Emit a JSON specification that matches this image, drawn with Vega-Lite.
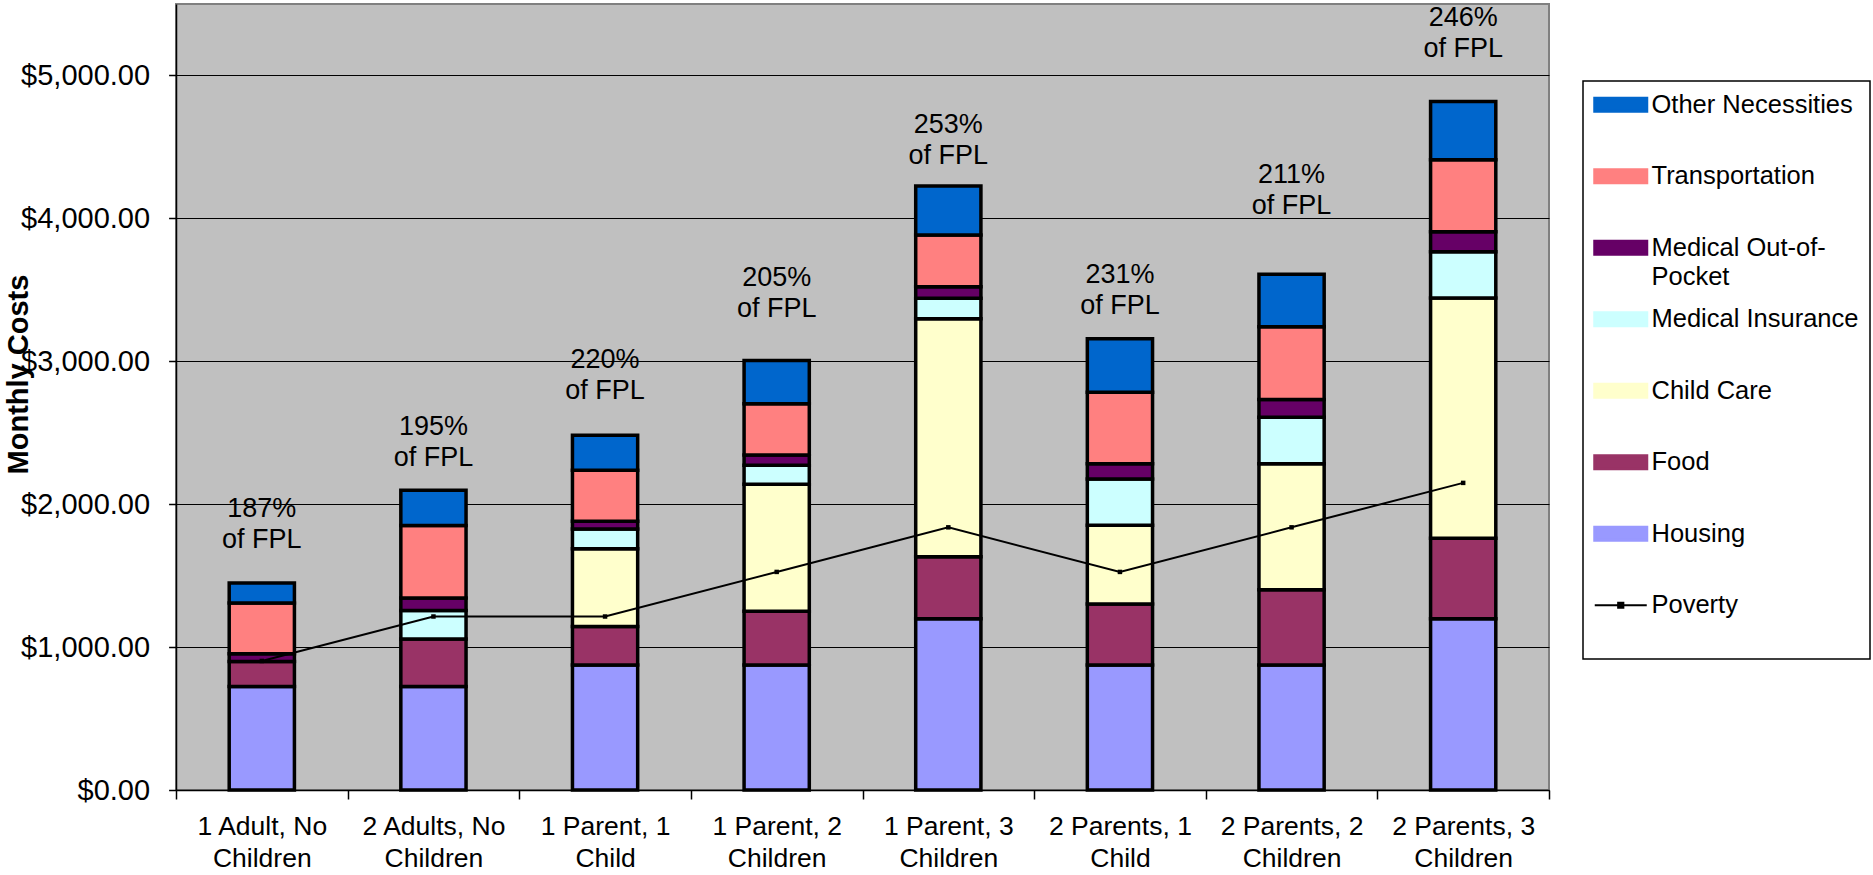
{
  "$schema": "https://vega.github.io/schema/vega-lite/v6.json",
  "width": 1373,
  "height": 786,
  "autosize": {"type": "none"},
  "padding": {"left": 176, "top": 4, "right": 324, "bottom": 85},
  "background": "white",
  "datasets": {
    "costs": [
      {"category": "1 Adult, No Children", "component": "Housing", "cost": 724},
      {"category": "1 Adult, No Children", "component": "Food", "cost": 175},
      {"category": "1 Adult, No Children", "component": "Medical Out-of-Pocket", "cost": 54},
      {"category": "1 Adult, No Children", "component": "Transportation", "cost": 355},
      {"category": "1 Adult, No Children", "component": "Other Necessities", "cost": 141},
      {"category": "2 Adults, No Children", "component": "Housing", "cost": 724},
      {"category": "2 Adults, No Children", "component": "Food", "cost": 332},
      {"category": "2 Adults, No Children", "component": "Medical Insurance", "cost": 200},
      {"category": "2 Adults, No Children", "component": "Medical Out-of-Pocket", "cost": 87},
      {"category": "2 Adults, No Children", "component": "Transportation", "cost": 507},
      {"category": "2 Adults, No Children", "component": "Other Necessities", "cost": 247},
      {"category": "1 Parent, 1 Child", "component": "Housing", "cost": 874},
      {"category": "1 Parent, 1 Child", "component": "Food", "cost": 270},
      {"category": "1 Parent, 1 Child", "component": "Child Care", "cost": 545},
      {"category": "1 Parent, 1 Child", "component": "Medical Insurance", "cost": 138},
      {"category": "1 Parent, 1 Child", "component": "Medical Out-of-Pocket", "cost": 53},
      {"category": "1 Parent, 1 Child", "component": "Transportation", "cost": 358},
      {"category": "1 Parent, 1 Child", "component": "Other Necessities", "cost": 245},
      {"category": "1 Parent, 2 Children", "component": "Housing", "cost": 874},
      {"category": "1 Parent, 2 Children", "component": "Food", "cost": 376},
      {"category": "1 Parent, 2 Children", "component": "Child Care", "cost": 889},
      {"category": "1 Parent, 2 Children", "component": "Medical Insurance", "cost": 133},
      {"category": "1 Parent, 2 Children", "component": "Medical Out-of-Pocket", "cost": 72},
      {"category": "1 Parent, 2 Children", "component": "Transportation", "cost": 359},
      {"category": "1 Parent, 2 Children", "component": "Other Necessities", "cost": 302},
      {"category": "1 Parent, 3 Children", "component": "Housing", "cost": 1199},
      {"category": "1 Parent, 3 Children", "component": "Food", "cost": 433},
      {"category": "1 Parent, 3 Children", "component": "Child Care", "cost": 1665},
      {"category": "1 Parent, 3 Children", "component": "Medical Insurance", "cost": 144},
      {"category": "1 Parent, 3 Children", "component": "Medical Out-of-Pocket", "cost": 81},
      {"category": "1 Parent, 3 Children", "component": "Transportation", "cost": 362},
      {"category": "1 Parent, 3 Children", "component": "Other Necessities", "cost": 342},
      {"category": "2 Parents, 1 Child", "component": "Housing", "cost": 874},
      {"category": "2 Parents, 1 Child", "component": "Food", "cost": 427},
      {"category": "2 Parents, 1 Child", "component": "Child Care", "cost": 551},
      {"category": "2 Parents, 1 Child", "component": "Medical Insurance", "cost": 324},
      {"category": "2 Parents, 1 Child", "component": "Medical Out-of-Pocket", "cost": 107},
      {"category": "2 Parents, 1 Child", "component": "Transportation", "cost": 501},
      {"category": "2 Parents, 1 Child", "component": "Other Necessities", "cost": 374},
      {"category": "2 Parents, 2 Children", "component": "Housing", "cost": 874},
      {"category": "2 Parents, 2 Children", "component": "Food", "cost": 527},
      {"category": "2 Parents, 2 Children", "component": "Child Care", "cost": 882},
      {"category": "2 Parents, 2 Children", "component": "Medical Insurance", "cost": 326},
      {"category": "2 Parents, 2 Children", "component": "Medical Out-of-Pocket", "cost": 123},
      {"category": "2 Parents, 2 Children", "component": "Transportation", "cost": 509},
      {"category": "2 Parents, 2 Children", "component": "Other Necessities", "cost": 368},
      {"category": "2 Parents, 3 Children", "component": "Housing", "cost": 1199},
      {"category": "2 Parents, 3 Children", "component": "Food", "cost": 563},
      {"category": "2 Parents, 3 Children", "component": "Child Care", "cost": 1680},
      {"category": "2 Parents, 3 Children", "component": "Medical Insurance", "cost": 325},
      {"category": "2 Parents, 3 Children", "component": "Medical Out-of-Pocket", "cost": 139},
      {"category": "2 Parents, 3 Children", "component": "Transportation", "cost": 505},
      {"category": "2 Parents, 3 Children", "component": "Other Necessities", "cost": 406}
    ],
    "poverty": [
      {"category": "1 Adult, No Children", "poverty": 903},
      {"category": "2 Adults, No Children", "poverty": 1214},
      {"category": "1 Parent, 1 Child", "poverty": 1214},
      {"category": "1 Parent, 2 Children", "poverty": 1526},
      {"category": "1 Parent, 3 Children", "poverty": 1838},
      {"category": "2 Parents, 1 Child", "poverty": 1526},
      {"category": "2 Parents, 2 Children", "poverty": 1838},
      {"category": "2 Parents, 3 Children", "poverty": 2149}
    ],
    "fpl": [
      {"category": "1 Adult, No Children", "label": "187%\nof FPL", "label_value": 1759},
      {"category": "2 Adults, No Children", "label": "195%\nof FPL", "label_value": 2333},
      {"category": "1 Parent, 1 Child", "label": "220%\nof FPL", "label_value": 2797},
      {"category": "1 Parent, 2 Children", "label": "205%\nof FPL", "label_value": 3376},
      {"category": "1 Parent, 3 Children", "label": "253%\nof FPL", "label_value": 4442},
      {"category": "2 Parents, 1 Child", "label": "231%\nof FPL", "label_value": 3395},
      {"category": "2 Parents, 2 Children", "label": "211%\nof FPL", "label_value": 4097},
      {"category": "2 Parents, 3 Children", "label": "246%\nof FPL", "label_value": 5189}
    ]
  },
  "layer": [
    {
      "data": {"name": "costs"},
      "transform": [
        {"calculate": "indexof(['Housing','Food','Child Care','Medical Insurance','Medical Out-of-Pocket','Transportation','Other Necessities'], datum.component)", "as": "stack_order"}
      ],
      "mark": {"type": "bar", "width": {"band": 0.38}, "stroke": "black", "strokeWidth": 3.5},
      "encoding": {
        "x": {
          "field": "category", "type": "nominal", "title": null,
          "scale": {"domain": ["1 Adult, No Children", "2 Adults, No Children", "1 Parent, 1 Child", "1 Parent, 2 Children", "1 Parent, 3 Children", "2 Parents, 1 Child", "2 Parents, 2 Children", "2 Parents, 3 Children"], "paddingInner": 0, "paddingOuter": 0},
          "axis": {
            "labelAngle": 0, "tickBand": "extent", "tickSize": 9, "tickWidth": 1.5, "tickColor": "black",
            "labelPadding": 14, "labelFontSize": 26.5, "labelLineHeight": 32, "labelColor": "black",
            "labelOverlap": false, "labelLimit": 300,
            "labelExpr": "[slice(datum.label, 0, lastindexof(datum.label, ' ')), slice(datum.label, lastindexof(datum.label, ' ') + 1)]",
            "domainColor": "black", "domainWidth": 1.5, "grid": false
          }
        },
        "y": {
          "field": "cost", "type": "quantitative", "stack": "zero", "title": "Monthly Costs",
          "scale": {"domain": [0, 5500], "nice": false},
          "axis": {
            "values": [0, 1000, 2000, 3000, 4000, 5000], "format": "$,.2f",
            "labelFontSize": 29, "labelPadding": 19, "labelColor": "black",
            "tickSize": 7.4, "tickColor": "black", "tickWidth": 1.5,
            "grid": true, "gridColor": "black", "gridWidth": 1, "gridOpacity": 1,
            "domainColor": "black", "domainWidth": 1.5,
            "titleFontSize": 29, "titleFontWeight": "bold", "titleColor": "black",
            "titleAngle": 270, "titleBaseline": "alphabetic", "titleAlign": "center",
            "titleX": -149, "titleY": 370
          }
        },
        "color": {
          "field": "component", "type": "nominal",
          "scale": {
            "domain": ["Other Necessities", "Transportation", "Medical Out-of-Pocket", "Medical Insurance", "Child Care", "Food", "Housing", "Poverty"],
            "range": ["#0066CC", "#FF8080", "#660066", "#CCFFFF", "#FFFFCC", "#993366", "#9999FF", "#000000"]
          },
          "legend": {
            "orient": "none", "legendX": 1407, "legendY": 77,
            "title": null, "padding": 11, "strokeColor": "black", "fillColor": "white",
            "symbolType": "M-1,-0.25H1V0.25H-1Z", "symbolSize": 2704,
            "symbolStrokeColor": "black", "symbolStrokeWidth": 3, "symbolOffset": 14,
            "labelFontSize": 25.5, "labelColor": "black", "labelOffset": 18, "labelLimit": 400,
            "labelBaseline": "middle", "rowPadding": 15.5,
            "labelExpr": "datum.label == 'Medical Out-of-Pocket' ? ['Medical Out-of-', 'Pocket'] : [datum.label, '']",
            "encode": {
              "symbols": {"update": {
                "shape": {"signal": "datum.label === 'Poverty' ? 'M-1,0H1M-0.1,-0.1H0.1V0.1H-0.1Z' : 'M-1,-0.25H1V0.25H-1Z'"},
                "strokeWidth": {"signal": "datum.label === 'Poverty' ? 2 : 3"},
                "stroke": {"value": "black"},
                "fill": {"signal": "datum.label === 'Poverty' ? 'black' : scale('color', datum.value)"},
                "opacity": {"value": 1}
              }},
              "labels": {"update": {"lineHeight": {"value": 29}}},
              "legend": {"update": {"strokeWidth": {"value": 1.5}}}
            }
          }
        },
        "order": {"field": "stack_order", "type": "quantitative", "sort": "ascending"}
      }
    },
    {
      "data": {"name": "poverty"},
      "mark": {"type": "line", "strokeWidth": 2, "point": {"shape": "square", "size": 20, "filled": true}},
      "encoding": {
        "x": {"field": "category", "type": "nominal", "title": null},
        "y": {"field": "poverty", "type": "quantitative", "title": "Monthly Costs", "scale": {"domain": [0, 5500], "nice": false}},
        "color": {
          "datum": "Poverty",
          "scale": {
            "domain": ["Other Necessities", "Transportation", "Medical Out-of-Pocket", "Medical Insurance", "Child Care", "Food", "Housing", "Poverty"],
            "range": ["#0066CC", "#FF8080", "#660066", "#CCFFFF", "#FFFFCC", "#993366", "#9999FF", "#000000"]
          }
        }
      }
    },
    {
      "data": {"name": "fpl"},
      "mark": {"type": "text", "lineBreak": "\n", "fontSize": 27, "lineHeight": 31, "baseline": "bottom", "dy": -16, "align": "center", "color": "black"},
      "encoding": {
        "x": {"field": "category", "type": "nominal", "title": null},
        "y": {"field": "label_value", "type": "quantitative", "title": "Monthly Costs", "scale": {"domain": [0, 5500], "nice": false}},
        "text": {"field": "label"}
      }
    }
  ],
  "config": {
    "font": "Liberation Sans",
    "view": {"fill": "#C0C0C0", "stroke": "#808080", "strokeWidth": 2},
    "axis": {"labelFont": "Liberation Sans", "titleFont": "Liberation Sans"},
    "legend": {"labelFont": "Liberation Sans"}
  }
}
